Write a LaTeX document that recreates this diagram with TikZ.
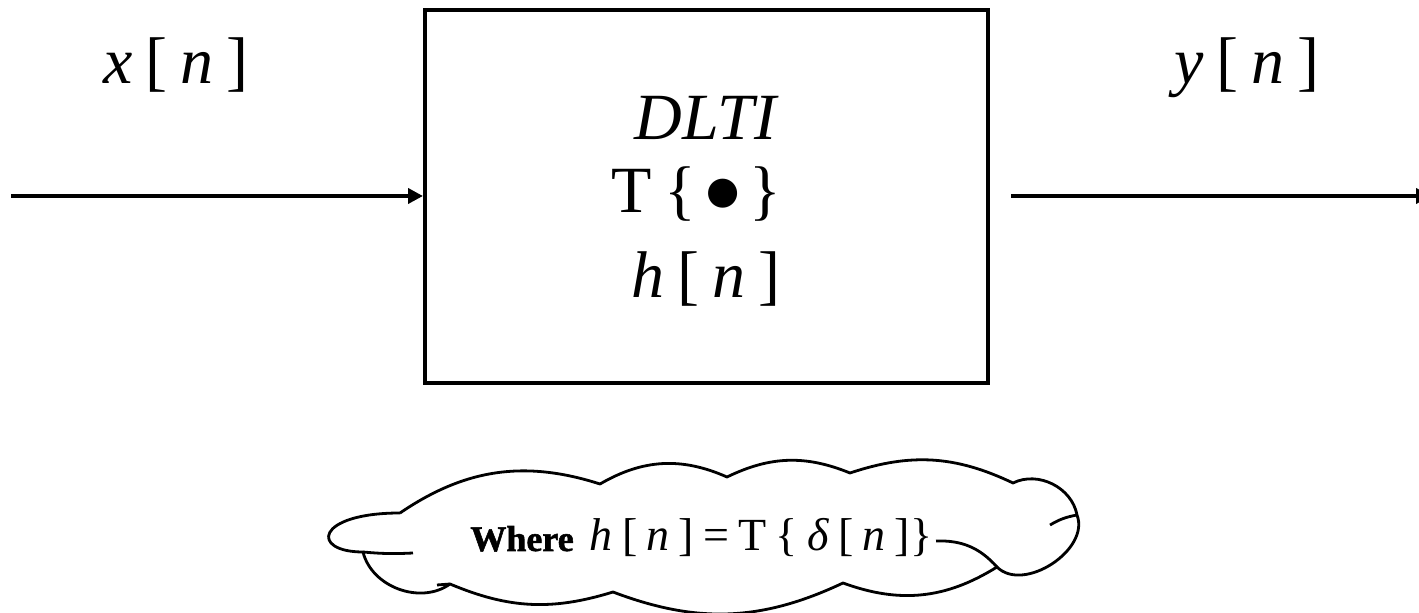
\documentclass[tikz,border=0pt]{standalone}
\usepackage{fontspec}
\setmainfont{Liberation Serif}
\newfontfamily\dotfont{DejaVu Sans}
\newfontfamily\heavyfont[FakeBold=1.5]{Liberation Serif Bold}
\usetikzlibrary{arrows.meta, positioning}
\newcommand{\ngap}{\hspace{0.2em}}
\tikzset{
  sysbox/.style    = {rectangle, draw, line width=2pt, minimum width=281.5pt,
                      minimum height=186.5pt},
  big/.style       = {font=\fontsize{33}{36}\selectfont, inner sep=0pt, anchor=base},
  cloudline/.style = {line width=1.4pt, line join=round},
  flow/.style      = {-{Triangle[length=7.5pt, width=7.5pt]}, line width=2pt},
}

\begin{document}
\begin{tikzpicture}[x=0.5pt, y=-0.5pt]
  \clip (0,0) rectangle (1419,613);
  % system block
  \node[sysbox] (sys) at (706.5,196.5) {};
  \node[big] (dlti)  at (707,140) {\textit{DLTI}};
  \node[big] (tmap)  at (696,213) {T\ngap\{\hspace{0.15em}\raisebox{4.5pt}{\dotfont\fontsize{19}{19}\selectfont ●}\hspace{0.15em}\}};
  \node[big] (hresp) at (706,298) {\textit{h}\ngap[\ngap\textit{n}\ngap]};
  % signals
  \node[big] (xlab) at (176,84) {\textit{x}\ngap[\ngap\textit{n}\ngap]};
  \node[big] (ylab) at (1247,84) {\textit{y}\ngap[\ngap\textit{n}\ngap]};
  \coordinate (src) at (11,196);
  \coordinate (tap) at (1011,196);
  \coordinate (snk) at (1431,196);
  \draw[flow] (src) -- (sys.west |- src);
  \draw[flow] (tap) -- (snk);

  % cloud
  \coordinate (c1) at (400,513);
  \coordinate (c2) at (600,484);
  \coordinate (c3) at (727,477);
  \coordinate (c4) at (850,473);
  \coordinate (c5) at (1013,483);
  \coordinate (c6) at (1077,515);
  \coordinate (c7) at (997,567);
  \coordinate (c8) at (843,583);
  \coordinate (c9) at (613,592);
  \coordinate (c10) at (450,584);
  \coordinate (c11) at (363,552);
  \draw[cloudline] (c1) to[bend left=26] (c2) to[bend left=27] (c3)
    to[bend left=24] (c4) to[bend left=22] (c5) to[bend left=53] (c6)
    to[bend left=78] (c7) to[bend left=26] (c8) to[bend left=23] (c9)
    to[bend left=20] (c10) to[bend left=56] (c11)
    .. controls (310,552) and (315,513) .. (c1);
  \draw[cloudline] (c11) to[bend right=4] (413,553);
  \draw[cloudline] (c6) to[bend right=10] (1050,525);
  \draw[cloudline] (c7) to[bend right=25] (936,541);
  \draw[cloudline] (c10) -- (437,585);
  \node[inner sep=0pt, anchor=base west] (note) at (470,551)
    {\fontsize{18}{20}\selectfont\heavyfont Where\hspace{0.45em}\normalfont
     \fontsize{23}{25}\selectfont\textit{h}\ngap[\ngap\textit{n}\ngap]\ngap{}=\ngap{}T\ngap\{\ngap\textit{δ}\ngap[\ngap\textit{n}\ngap]\}};
\end{tikzpicture}
\end{document}
